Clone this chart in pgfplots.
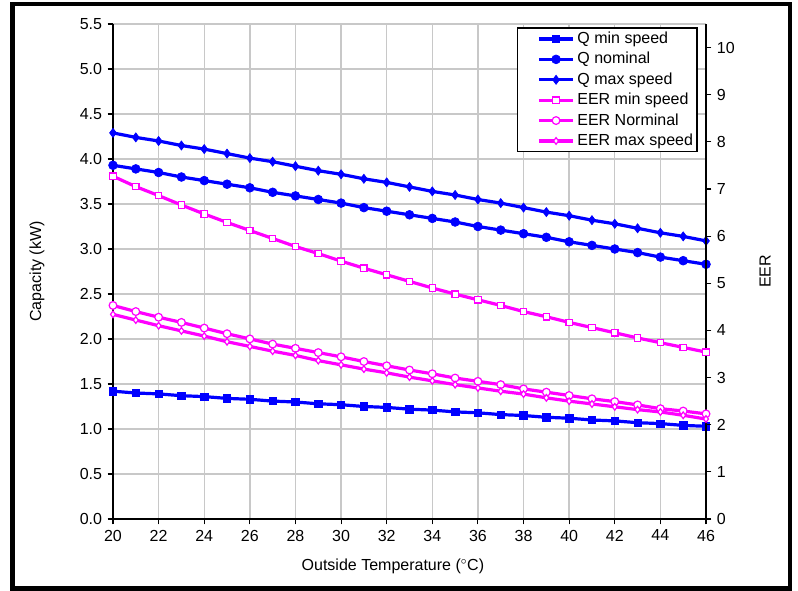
\documentclass[border=0pt]{standalone}
\usepackage{pgfplots}
\pgfplotsset{compat=1.18}
\usepackage{fontspec}
\setmainfont{Liberation Sans}
\definecolor{qblue}{RGB}{0,0,255}
\definecolor{emag}{RGB}{255,0,255}
\definecolor{gridgray}{RGB}{200,200,200}

\begin{document}
\begin{tikzpicture}
\fontsize{12}{14.4}\selectfont
\path[use as bounding box] (0,0) rectangle (598.5pt,443.25pt);
\draw[line width=3.4pt] (9.5pt,1.9pt) rectangle (592.5pt,440.4pt);

\pgfplotsset{
  every axis/.append style={
    scale only axis, width=444.75pt, height=371.25pt,
    at={(84.75pt,54pt)}, anchor=south west,
    xmin=20, xmax=46,
    tick label style={font=\fontsize{12}{14.4}\selectfont},
    label style={font=\fontsize{12}{14.4}\selectfont},
    /pgf/number format/assume math mode=true,
    tick align=outside, tick style={black, line width=0.8pt},
    major tick length=4pt,
    axis line style={black, line width=1pt, -},
  },
  /pgfplots/legend image code/.code={\path (0cm,0cm); \draw[mark repeat=2,mark phase=2,#1] plot coordinates {(0.5cm,0cm) (0.95cm,0cm) (1.4cm,0cm)};},
}

\begin{axis}[
  axis x line*=bottom, axis y line*=left,
  ymin=0, ymax=5.5,
  xtick={20,22,...,46},
  ytick={0,0.5,...,5.5},
  yticklabel style={/pgf/number format/fixed,/pgf/number format/fixed zerofill,/pgf/number format/precision=1},
  grid=major, major grid style={gridgray, line width=1pt},
  xlabel={Outside Temperature (${}^{\circ}$C)},
  ylabel={Capacity (kW)},
  xlabel style={at={(axis description cs:0.472,-0.095)}, anchor=center},
  ylabel style={at={(axis description cs:-0.128,0.5)}, anchor=center},
  clip=false,
]
\addplot[qblue, line width=2.4pt, mark=square*, mark size=2.8pt, mark options={solid, fill=qblue, line width=0.5pt}] coordinates {
(20,1.42) (21,1.40) (22,1.39) (23,1.37) (24,1.36) (25,1.34) (26,1.33) (27,1.31) (28,1.30) (29,1.28) (30,1.27) (31,1.25) (32,1.24) (33,1.22) (34,1.21) (35,1.19) (36,1.18) (37,1.16) (38,1.15) (39,1.13) (40,1.12) (41,1.10) (42,1.09) (43,1.07) (44,1.06) (45,1.04) (46,1.03)};
\addplot[qblue, line width=2.4pt, mark=*, mark size=3.3pt, mark options={solid, fill=qblue, line width=0.5pt}] coordinates {
(20,3.93) (21,3.89) (22,3.85) (23,3.80) (24,3.76) (25,3.72) (26,3.68) (27,3.63) (28,3.59) (29,3.55) (30,3.51) (31,3.46) (32,3.42) (33,3.38) (34,3.34) (35,3.30) (36,3.25) (37,3.21) (38,3.17) (39,3.13) (40,3.08) (41,3.04) (42,3.00) (43,2.96) (44,2.91) (45,2.87) (46,2.83)};
\addplot[qblue, line width=2.4pt, mark=diamond*, mark size=3.4pt, mark options={solid, fill=qblue, line width=0.5pt}] coordinates {
(20,4.29) (21,4.24) (22,4.20) (23,4.15) (24,4.11) (25,4.06) (26,4.01) (27,3.97) (28,3.92) (29,3.87) (30,3.83) (31,3.78) (32,3.74) (33,3.69) (34,3.64) (35,3.60) (36,3.55) (37,3.51) (38,3.46) (39,3.41) (40,3.37) (41,3.32) (42,3.28) (43,3.23) (44,3.18) (45,3.14) (46,3.09)};
\end{axis}

\begin{axis}[
  axis x line=none, axis y line*=right,
  ymin=0, ymax=10.5,
  ytick={0,1,...,10},
  ylabel={EER},
  ylabel style={at={(axis description cs:1.0995,0.5)}, anchor=center},
  legend style={at={(1,1)}, anchor=north east, xshift=-6.75pt, yshift=-3pt,
    draw=black, line width=0.8pt, fill=white, inner sep=1pt, outer sep=0pt,
    row sep=0.8pt, font=\fontsize{12}{14.4}\selectfont,
    legend cell align=left},
  clip=false,
]
\addlegendimage{qblue, line width=2.4pt, mark=square*, mark size=2.8pt, mark options={solid, fill=qblue, line width=0.5pt}}
\addlegendentry{Q min speed}
\addlegendimage{qblue, line width=2.4pt, mark=*, mark size=3.3pt, mark options={solid, fill=qblue, line width=0.5pt}}
\addlegendentry{Q nominal}
\addlegendimage{qblue, line width=2.4pt, mark=diamond*, mark size=3.4pt, mark options={solid, fill=qblue, line width=0.5pt}}
\addlegendentry{Q max speed}
\addplot[emag, line width=2.4pt, mark=square*, mark size=2.4pt, mark options={solid, fill=white, draw=emag, line width=0.9pt}] coordinates {
(20,7.27) (21,7.05) (22,6.86) (23,6.66) (24,6.47) (25,6.29) (26,6.12) (27,5.95) (28,5.78) (29,5.63) (30,5.47) (31,5.32) (32,5.18) (33,5.04) (34,4.90) (35,4.77) (36,4.65) (37,4.53) (38,4.40) (39,4.29) (40,4.17) (41,4.06) (42,3.95) (43,3.84) (44,3.74) (45,3.64) (46,3.54)};
\addlegendentry{EER min speed}
\addplot[emag, line width=2.4pt, mark=*, mark size=2.9pt, mark options={solid, fill=white, draw=emag, line width=0.9pt}] coordinates {
(20,4.53) (21,4.40) (22,4.28) (23,4.17) (24,4.05) (25,3.93) (26,3.82) (27,3.71) (28,3.62) (29,3.53) (30,3.44) (31,3.34) (32,3.25) (33,3.16) (34,3.08) (35,2.99) (36,2.92) (37,2.85) (38,2.76) (39,2.69) (40,2.62) (41,2.55) (42,2.49) (43,2.42) (44,2.34) (45,2.29) (46,2.23)};
\addlegendentry{EER Norminal}
\addplot[emag, line width=2.4pt, mark=diamond*, mark size=2.5pt, mark options={solid, fill=white, draw=emag, line width=0.9pt}] coordinates {
(20,4.34) (21,4.22) (22,4.10) (23,3.99) (24,3.88) (25,3.76) (26,3.66) (27,3.56) (28,3.47) (29,3.36) (30,3.27) (31,3.18) (32,3.10) (33,3.01) (34,2.93) (35,2.85) (36,2.78) (37,2.71) (38,2.65) (39,2.57) (40,2.50) (41,2.44) (42,2.38) (43,2.32) (44,2.27) (45,2.20) (46,2.12)};
\addlegendentry{EER max speed}
\end{axis}
\end{tikzpicture}
\end{document}
